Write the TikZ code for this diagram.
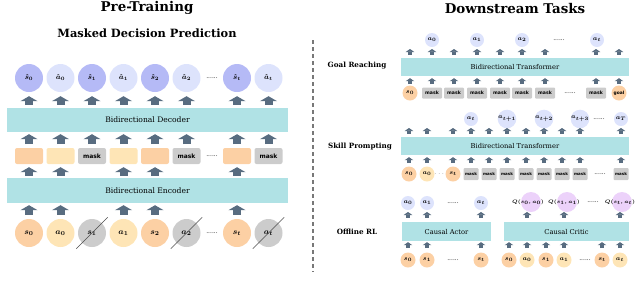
\documentclass[tikz,border=0pt]{standalone}
\usepackage{amsmath,amssymb}
\usepackage{fontspec}
\setmainfont{DejaVu Serif}
\setsansfont{DejaVu Sans}
\usepackage{tikz}
\usetikzlibrary{arrows.meta}

\definecolor{bandc}{RGB}{176,226,229}
\definecolor{arrc}{RGB}{88,108,128}
\definecolor{shatc}{RGB}{181,186,246}
\definecolor{ahatc}{RGB}{221,227,252}
\definecolor{sorange}{RGB}{252,208,164}
\definecolor{ayellow}{RGB}{254,229,182}
\definecolor{maskc}{RGB}{204,204,204}
\definecolor{qpurple}{RGB}{236,210,250}
\definecolor{sepc}{RGB}{120,120,120}

\begin{document}
\begin{tikzpicture}[x=1pt,y=-1pt,
title/.style={font=\bfseries\fontsize{13.4}{15}\selectfont},
subtitle/.style={font=\bfseries\fontsize{11.4}{13}\selectfont},
task/.style={font=\bfseries\fontsize{7.2}{8}\selectfont},
band/.style={fill=bandc,inner sep=0pt,font=\fontsize{7.6}{9}\selectfont},
sband/.style={fill=bandc,inner sep=0pt,minimum height=18pt,font=\fontsize{6.7}{8}\selectfont},
bcirc/.style={circle,minimum size=28pt,inner sep=0pt,font=\boldmath\fontsize{8}{9}\selectfont},
btok/.style={rounded corners=2pt,minimum width=28pt,minimum height=16pt,inner sep=0pt,font=\sffamily\bfseries\fontsize{6}{7}\selectfont},
scirc/.style={circle,minimum size=15pt,inner sep=0pt,font=\boldmath\fontsize{6}{7}\selectfont},
ocirc/.style={circle,fill=ahatc,minimum size=14pt,inner sep=0pt,font=\boldmath\fontsize{6}{7}\selectfont},
smask/.style={fill=maskc,rounded corners=1pt,minimum width=20pt,minimum height=11pt,inner sep=0pt,font=\sffamily\bfseries\fontsize{4.6}{5}\selectfont},
dots/.style={font=\fontsize{6}{7}\selectfont,inner sep=0pt},
qlabel/.style={font=\boldmath\fontsize{4.3}{5}\selectfont,inner sep=0pt},
bigarr/.style={draw=arrc,line width=8pt,-{Triangle[width=17pt,length=5pt]}},
smarr/.style={draw=arrc,line width=4pt,-{Triangle[width=8.5pt,length=3pt]}},
strike/.style={draw=black!70,line width=0.5pt,shorten <=-8pt,shorten >=-8pt}]

\useasboundingbox (0,0) rectangle (640,293);

% pre-training
\node[title] (pt) at (147,8) {Pre-Training};
\node[subtitle] (mdp) at (147,33) {Masked Decision Prediction};
\node[band,minimum width=281pt,minimum height=24pt] (dec) at (147.5,120) {Bidirectional Decoder};
\node[band,minimum width=281pt,minimum height=25pt] (enc) at (147.5,190.5) {Bidirectional Encoder};

\node[bcirc,fill=shatc,font=\boldmath\fontsize{7}{8}\selectfont] (out0) at (29,78) {$\hat{s}_0$};
\node[bcirc,fill=ahatc,font=\boldmath\fontsize{7}{8}\selectfont] (out1) at (60.5,78) {$\hat{a}_0$};
\node[bcirc,fill=shatc,font=\boldmath\fontsize{7}{8}\selectfont] (out2) at (92,78) {$\hat{s}_1$};
\node[bcirc,fill=ahatc,font=\boldmath\fontsize{7}{8}\selectfont] (out3) at (123.5,78) {$\hat{a}_1$};
\node[bcirc,fill=shatc,font=\boldmath\fontsize{7}{8}\selectfont] (out4) at (155,78) {$\hat{s}_2$};
\node[bcirc,fill=ahatc,font=\boldmath\fontsize{7}{8}\selectfont] (out5) at (186.5,78) {$\hat{a}_2$};
\node[dots] (outd) at (212,78) {......};
\node[bcirc,fill=shatc,font=\boldmath\fontsize{7}{8}\selectfont] (out6) at (237,78) {$\hat{s}_t$};
\node[bcirc,fill=ahatc,font=\boldmath\fontsize{7}{8}\selectfont] (out7) at (268.5,78) {$\hat{a}_t$};

\node[btok,fill=sorange] (tok0) at (29,156) {};
\node[btok,fill=ayellow] (tok1) at (60.5,156) {};
\node[btok,fill=maskc] (tok2) at (92,156) {mask};
\node[btok,fill=ayellow] (tok3) at (123.5,156) {};
\node[btok,fill=sorange] (tok4) at (155,156) {};
\node[btok,fill=maskc] (tok5) at (186.5,156) {mask};
\node[dots] (tokd) at (212,156) {......};
\node[btok,fill=sorange] (tok6) at (237,156) {};
\node[btok,fill=maskc] (tok7) at (268.5,156) {mask};

\node[bcirc,fill=sorange] (in0) at (29,233) {$s_0$};
\node[bcirc,fill=ayellow] (in1) at (60.5,233) {$a_0$};
\node[bcirc,fill=maskc] (in2) at (92,233) {$s_1$};
\node[bcirc,fill=ayellow] (in3) at (123.5,233) {$a_1$};
\node[bcirc,fill=sorange] (in4) at (155,233) {$s_2$};
\node[bcirc,fill=maskc] (in5) at (186.5,233) {$a_2$};
\node[dots] (ind) at (212,233) {......};
\node[bcirc,fill=sorange] (in6) at (237,233) {$s_t$};
\node[bcirc,fill=maskc] (in7) at (268.5,233) {$a_t$};

\foreach \i in {2,5,7}
  \draw[strike] (in\i.south west) -- (in\i.north east);

\foreach \i in {0,...,7}{
  \draw[bigarr,shorten <=3pt,shorten >=4pt] (dec.north -| out\i) -- (out\i);
  \draw[bigarr,shorten <=12pt,shorten >=2pt] (tok\i.center) -- (dec.south -| tok\i);
}
\foreach \i in {0,1,3,4,6}{
  \draw[bigarr,shorten <=2pt,shorten >=3pt] (enc.north -| tok\i) -- (tok\i);
  \draw[bigarr,shorten <=4pt,shorten >=2pt] (in\i) -- (enc.south -| in\i);
}

% separator
\coordinate (septop) at (313,40);
\coordinate (sepbot) at (313,272);
\draw[sepc,line width=1.2pt,dash pattern=on 4pt off 3pt] (septop) -- (sepbot);

% downstream tasks
\node[title] (dt) at (515,8) {Downstream Tasks};
\node[task] (grl) at (357,66) {Goal Reaching};
\node[task] (spl) at (360,147) {Skill Prompting};
\node[task] (orl) at (357,232) {Offline RL};

% goal reaching
\node[sband,minimum width=228pt] (gr) at (515,67) {Bidirectional Transformer};
\node[scirc,fill=sorange] (g0) at (410,93) {$s_0$};
\node[smask] (g1) at (432,93) {mask};
\node[smask] (g2) at (454,93) {mask};
\node[smask] (g3) at (477,93) {mask};
\node[smask] (g4) at (500,93) {mask};
\node[smask] (g5) at (522,93) {mask};
\node[smask] (g6) at (545,93) {mask};
\node[dots] (gd) at (570,93) {......};
\node[smask] (g7) at (596,93) {mask};
\node[scirc,fill=sorange,font=\sffamily\bfseries\fontsize{4.4}{5}\selectfont] (g8) at (619,93) {goal};

\node[ocirc] (go1) at (432,40) {$a_0$};
\node[ocirc] (go3) at (477,40) {$a_1$};
\node[ocirc] (go5) at (522,40) {$a_2$};
\node[dots] (god) at (559,40) {......};
\node[ocirc] (go7) at (597,40) {$a_t$};

\coordinate (grtop) at (0,49);
\foreach \i in {0,...,8}{
  \draw[smarr,shorten <=9pt,shorten >=2pt] (g\i.center) -- (gr.south -| g\i);
  \draw[smarr,shorten <=3pt] (gr.north -| g\i) -- (g\i |- grtop);
}

% skill prompting
\node[sband,minimum width=228pt] (sp) at (515,146) {Bidirectional Transformer};
\node[scirc,fill=sorange] (p0) at (409,174) {$s_0$};
\node[scirc,fill=ayellow] (p1) at (427,174) {$a_0$};
\node[dots,font=\fontsize{5}{6}\selectfont] (pd1) at (440,174) {$\cdots$};
\node[scirc,fill=sorange] (p2) at (453,174) {$s_t$};
\node[smask,minimum width=15pt,minimum height=12pt,font=\sffamily\bfseries\fontsize{4}{5}\selectfont] (p3) at (471,174) {mask};
\node[smask,minimum width=15pt,minimum height=12pt,font=\sffamily\bfseries\fontsize{4}{5}\selectfont] (p4) at (489,174) {mask};
\node[smask,minimum width=15pt,minimum height=12pt,font=\sffamily\bfseries\fontsize{4}{5}\selectfont] (p5) at (507,174) {mask};
\node[smask,minimum width=15pt,minimum height=12pt,font=\sffamily\bfseries\fontsize{4}{5}\selectfont] (p6) at (526,174) {mask};
\node[smask,minimum width=15pt,minimum height=12pt,font=\sffamily\bfseries\fontsize{4}{5}\selectfont] (p7) at (544,174) {mask};
\node[smask,minimum width=15pt,minimum height=12pt,font=\sffamily\bfseries\fontsize{4}{5}\selectfont] (p8) at (562,174) {mask};
\node[smask,minimum width=15pt,minimum height=12pt,font=\sffamily\bfseries\fontsize{4}{5}\selectfont] (p9) at (580,174) {mask};
\node[dots] (pd2) at (600,174) {......};
\node[smask,minimum width=15pt,minimum height=12pt,font=\sffamily\bfseries\fontsize{4}{5}\selectfont] (p10) at (621,174) {mask};

\node[ocirc] (po3) at (471,119) {$a_t$};
\node[ocirc] (po5) at (507,119) {$a_{t+1}$};
\node[ocirc] (po7) at (544,119) {$a_{t+2}$};
\node[ocirc] (po9) at (580,119) {$a_{t+3}$};
\node[dots] (pod) at (599,119) {......};
\node[ocirc] (po10) at (621,119) {$a_T$};

\coordinate (sptop) at (0,128);
\foreach \i in {0,...,10}{
  \draw[smarr,shorten <=11pt,shorten >=2pt] (p\i.center) -- (sp.south -| p\i);
  \draw[smarr,shorten <=3pt] (sp.north -| p\i) -- (p\i |- sptop);
}

% offline rl
\node[sband,minimum width=89pt,minimum height=19pt] (ra) at (446.5,231.5) {Causal Actor};
\node[sband,minimum width=125pt,minimum height=19pt] (rc) at (566.5,231.5) {Causal Critic};

\node[scirc,fill=sorange] (r0) at (408,260) {$s_0$};
\node[scirc,fill=sorange] (r1) at (427,260) {$s_1$};
\node[dots] (rd) at (453,260) {......};
\node[scirc,fill=sorange] (r2) at (481,260) {$s_t$};
\node[ocirc] (ro0) at (408,203) {$a_0$};
\node[ocirc] (ro1) at (427,203) {$a_1$};
\node[dots] (rod) at (453,203) {......};
\node[ocirc] (ro2) at (481,203) {$a_t$};

\node[scirc,fill=sorange] (q0) at (509,260) {$s_0$};
\node[scirc,fill=ayellow] (q1) at (527,260) {$a_0$};
\node[scirc,fill=sorange] (q2) at (546,260) {$s_1$};
\node[scirc,fill=ayellow] (q3) at (564,260) {$a_1$};
\node[dots] (qd) at (585,260) {......};
\node[scirc,fill=sorange] (q4) at (602,260) {$s_t$};
\node[scirc,fill=ayellow] (q5) at (620,260) {$a_t$};

\node[circle,fill=qpurple,minimum size=20pt] (qc1) at (531,202) {};
\node[circle,fill=qpurple,minimum size=20pt] (qc3) at (567,202) {};
\node[circle,fill=qpurple,minimum size=20pt] (qc5) at (622,202) {};
\node[qlabel] (ql1) at (528,202) {$Q(s_0,a_0)$};
\node[qlabel] (ql3) at (564,202) {$Q(s_1,a_1)$};
\node[dots] (qld) at (593,202) {......};
\node[qlabel] (ql5) at (620,202) {$Q(s_t,a_t)$};

\coordinate (rltop) at (0,212);
\foreach \i in {0,1,2}{
  \draw[smarr,shorten <=12pt,shorten >=1pt] (r\i.center) -- (ra.south -| r\i);
  \draw[smarr,shorten <=4pt] (ra.north -| r\i) -- (r\i |- rltop);
}
\foreach \i in {0,...,5}
  \draw[smarr,shorten <=12pt,shorten >=1pt] (q\i.center) -- (rc.south -| q\i);
\foreach \i in {1,3,5}
  \draw[smarr,shorten <=4pt] (rc.north -| q\i) -- (q\i |- rltop);

\end{tikzpicture}
\end{document}
